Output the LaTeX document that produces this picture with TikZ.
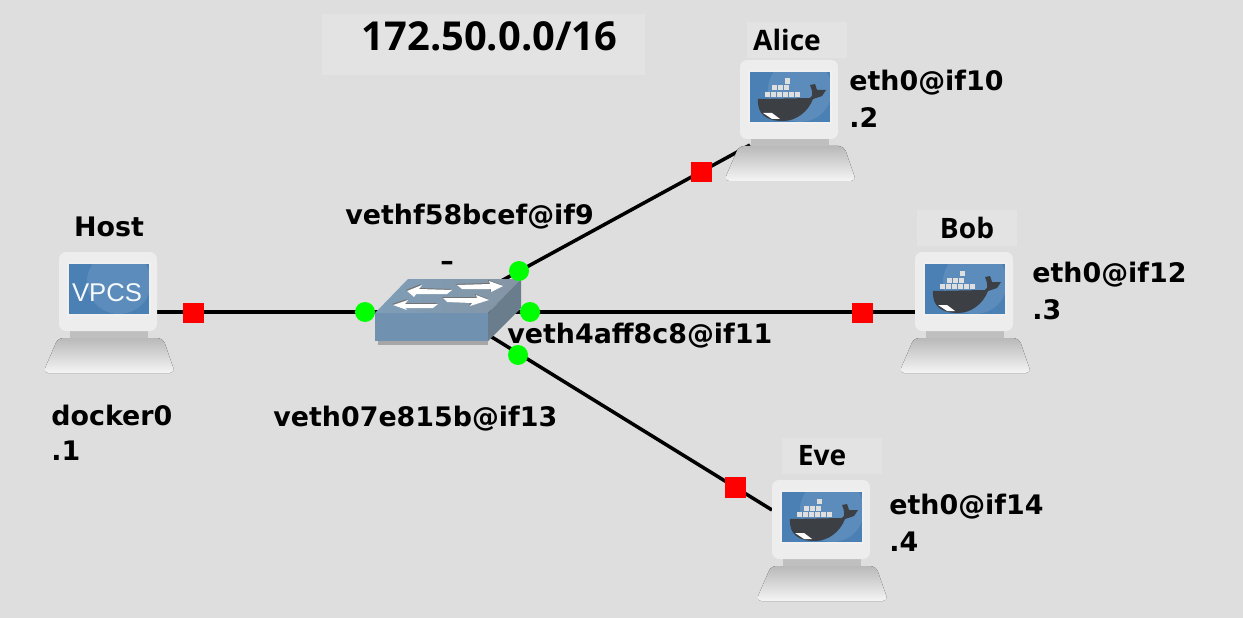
\documentclass[tikz,border=0pt]{standalone}
\usepackage{fontspec}
\setsansfont{Liberation Sans}
\newfontfamily\labelfont{DejaVu Sans}
\newfontfamily\namefont{Open Sans}
\usepackage{xcolor}
\usetikzlibrary{positioning}

\definecolor{canvasgray}{HTML}{DEDEDE}
\definecolor{boxgray}{HTML}{E3E3E3}
\definecolor{screenblue}{HTML}{4A80B4}
\definecolor{whalegray}{HTML}{3C3F44}
\definecolor{switchblue}{HTML}{7092B0}

\tikzset{
    port/.style={circle, fill=green, inner sep=0pt, minimum size=0.4cm},
    tap/.style={rectangle, fill=red, inner sep=0pt, minimum size=0.42cm},
    iflabel/.style={font=\labelfont\bfseries\fontsize{15.3}{15.3}\selectfont, text=black, inner sep=0pt, anchor=west},
    namelabel/.style={font=\namefont\bfseries\fontsize{16}{16}\selectfont, fill=boxgray, inner sep=0pt,
        minimum width=2cm, minimum height=0.72cm},
    link/.style={line width=2pt, black},
    pcbody/.pic={
        % Base
        \fill[top color=gray!55, bottom color=gray!8, rounded corners=3pt]
            (-11,74) -- (94,74) -- (106,109) -- (-26,109) -- cycle;
        \fill[gray!50] (1,66) rectangle (79,74);
        % Monitor and screen
        \fill[gray!14, rounded corners=4pt] (-10,-12) rectangle (88,67);
        \fill[white!88!gray] (-2,-2) rectangle (82,52);
        \fill[screenblue] (0,0) rectangle (80,50);
        \begin{scope}
            \clip (0,0) rectangle (80,50);
            \fill[white, opacity=0.1] (50,18) circle (32);
        \end{scope}
    },
    dockerpc/.pic={
        \pic {pcbody};
        % Whale
        \fill[whalegray] (8,27) -- (60,26) .. controls (64,24) and (62,18) .. (60,13)
            -- (65,12) -- (67,18) -- (76,18) -- (72,24) -- (63,27)
            .. controls (58,40) and (46,49) .. (33,49)
            .. controls (16,49) and (7,42) .. (8,27) -- cycle;
        \fill[white] (13,41) -- (22,41) -- (30,47) -- (22,47) -- cycle;
        % Containers on its back
        \foreach \cx in {15,21,...,45} \fill[gray!25] (\cx,20) rectangle +(4.8,5);
        \foreach \cx in {22,28,34} \fill[gray!25] (\cx,13.5) rectangle +(4.8,5);
        \fill[gray!25] (35,6.5) rectangle +(4.8,5.5);
    },
    vpcspc/.pic={
        \pic {pcbody};
        \node[font=\sffamily\fontsize{14.6}{14.6}\selectfont, text=white!95!screenblue, inner sep=0pt] (#1) at (38,29) {VPCS};
    },
}

\begin{document}
\begin{tikzpicture}[x=0.02cm, y=-0.02cm]
    \fill[canvasgray] (0,0) rectangle (1243,618);
    \useasboundingbox (0,0) rectangle (1243,618);

    % Title
    \node[fill=boxgray, inner sep=0pt, minimum width=6.46cm, minimum height=1.22cm] (titlebox) at (483.5,44.5) {};
    \node[font=\namefont\bfseries\fontsize{22.7}{22.7}\selectfont, inner sep=0pt] (title) at (489.5,36) {172.50.0.0/16};

    % Link ends
    \coordinate (hostport) at (157,312);
    \coordinate (aliceport) at (750,145);
    \coordinate (bobport) at (916,312);
    \coordinate (eveport) at (772,510);
    \coordinate (sw) at (448,310);

    % Links
    \draw[link] (hostport) -- (sw |- hostport);
    \draw[link] (sw |- bobport) -- (bobport);
    \draw[link] (sw) -- (aliceport);
    \draw[link] (sw) -- (eveport);

    % Computers
    \pic at (69,264) {vpcspc=vpcs};
    \pic at (750,72) {dockerpc};
    \pic at (925,264) {dockerpc};
    \pic at (782,492) {dockerpc};

    % Switch
    \fill[gray!70] (378,341) rectangle (488,345);
    \shade[left color=switchblue!90!white, right color=gray!45!switchblue!90!white]
        (375,313) -- (408,279) -- (521,279) -- (488,313) -- cycle;
    \fill[switchblue] (375,313) rectangle (488,341);
    \fill[gray!40!switchblue!90!black] (488,313) -- (521,279) -- (521,308) -- (488,341) -- cycle;
    % Switch arrows
    \foreach \sh/\col in {-1/black!55, 0/white} {
        \fill[\col, shift={(\sh,\sh)}] (457,285) -- (490,284) -- (489,281) -- (503,286) -- (491,292) -- (491,289) -- (462,289) -- cycle;
        \fill[\col, shift={(\sh,\sh)}] (407,291) -- (422,285) -- (419,289) -- (452,290) -- (447,294) -- (416,294) -- (414,297) -- cycle;
        \fill[\col, shift={(\sh,\sh)}] (443,298) -- (477,298) -- (476,295) -- (489,300) -- (470,306) -- (472,303) -- (447,302) -- cycle;
        \fill[\col, shift={(\sh,\sh)}] (393,305) -- (408,300) -- (405,304) -- (438,304) -- (433,308) -- (405,308) -- (407,310) -- cycle;
    }

    % Ports on the switch
    \node[port] (swleft) at (365,312) {};
    \node[port] (swright) at (530,312) {};
    \node[port] (swtop) at (519,271) {};
    \node[port] (swbottom) at (518,355) {};

    % Taps on the links
    \node[tap] (taphost) at (193,313) {};
    \node[tap] (tapalice) at (701,172) {};
    \node[tap] (tapbob) at (862,313) {};
    \node[tap] (tapeve) at (735,487) {};

    % Names
    \node[iflabel, anchor=center] (hostname) at (109,227) {Host};
    \node[namelabel] (alicename) at (797,40) {\hspace*{-0.4cm}Alice};
    \node[namelabel] (bobname) at (967,228) {Bob};
    \node[namelabel] (evename) at (832,456) {\hspace*{-0.4cm}Eve};

    % Interfaces
    \node[iflabel] (hostif) at (51,415) {docker0};
    \node[iflabel] (hostip) at (51,451) {.1};
    \node[iflabel] (aliceif) at (849,83) {eth0@if10};
    \node[iflabel] (aliceip) at (849,118) {.2};
    \node[iflabel] (bobif) at (1032,275) {eth0@if12};
    \node[iflabel] (bobip) at (1032,310) {.3};
    \node[iflabel] (eveif) at (889,507) {eth0@if14};
    \node[iflabel] (eveip) at (889,542) {.4};
    \node[iflabel] (vethtop) at (345,217) {vethf58bcef@if9};
    \node[iflabel] (vethright) at (507,336) {veth4aff8c8@if11};
    \node[iflabel] (vethbottom) at (273,419) {veth07e815b@if13};
    \node[iflabel, anchor=center] (swname) at (447,266) {–};
\end{tikzpicture}
\end{document}
